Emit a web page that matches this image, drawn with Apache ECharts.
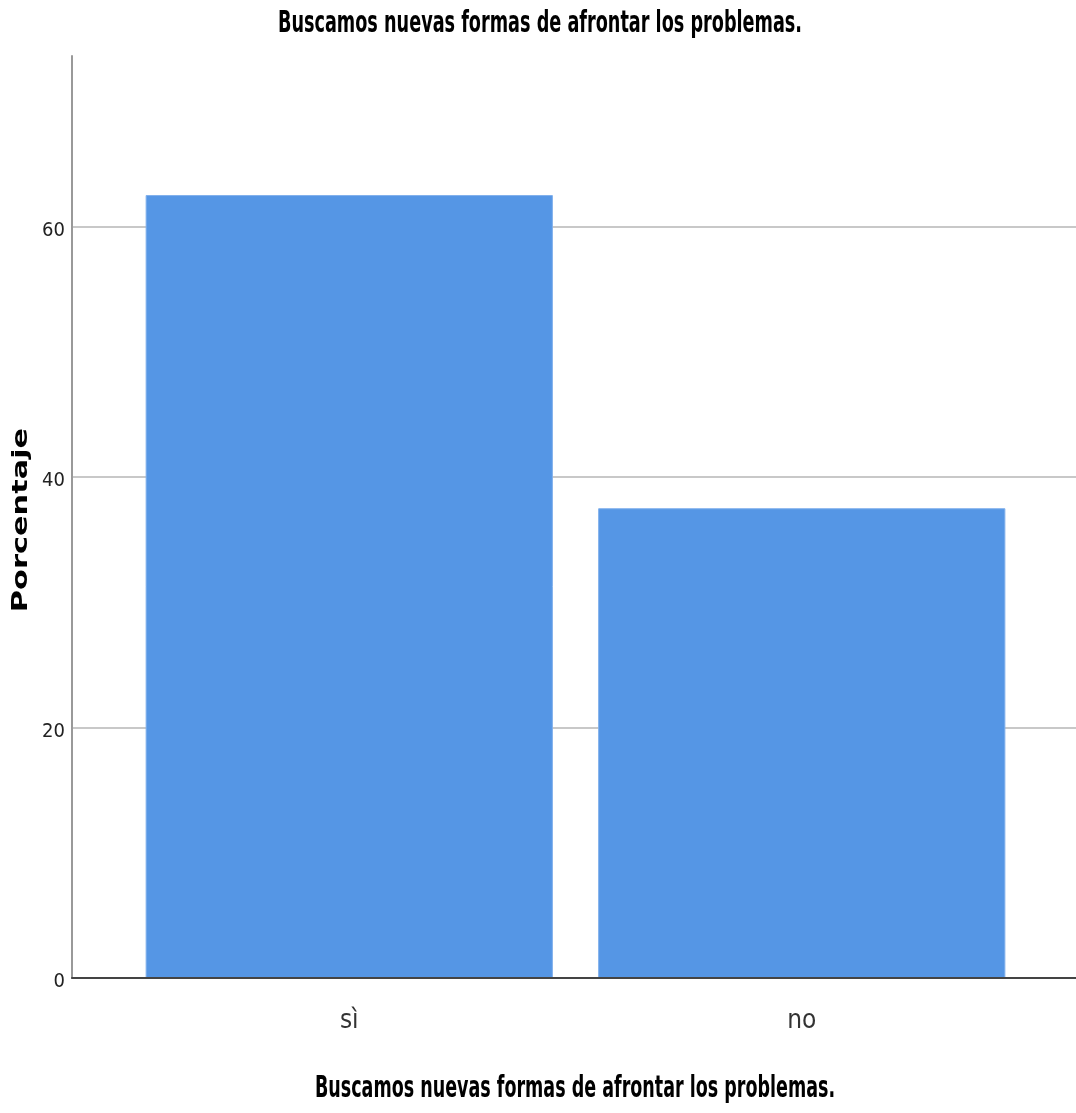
<!DOCTYPE html>
<html>
<head>
<meta charset="utf-8">
<script src="https://cdn.jsdelivr.net/npm/echarts@6/dist/echarts.min.js"></script>
<style>
html,body{margin:0;padding:0;background:#fff;}
#chart{width:1076px;height:1113px;}
</style>
</head>
<body>
<div id="chart"></div>
<script>
const chartTitle = 'Buscamos nuevas formas de afrontar los problemas.';
const categories = ['sì', 'no'];
const percentages = [62.5, 37.5];
const yTickValues = [0, 20, 40, 60];
const yAxisTitle = 'Porcentaje';
const xAxisTitle = 'Buscamos nuevas formas de afrontar los problemas.';

const narrow = '"DejaVu Sans Condensed", "Liberation Sans", sans-serif';
const yMax = 73.6;

const chart = echarts.init(document.getElementById('chart'), null, {renderer: 'canvas'});
chart.setOption({
  backgroundColor: '#ffffff',
  animation: false,
  graphic: [
    {
      type: 'text', x: 540, y: 24, scaleX: 0.654, z: 10,
      style: {text: chartTitle, font: 'bold 30px ' + narrow, fill: '#000',
              textAlign: 'center', textVerticalAlign: 'middle'}
    },
    {
      type: 'text', x: 575, y: 1089, scaleX: 0.649, z: 10,
      style: {text: xAxisTitle, font: 'bold 30px ' + narrow, fill: '#000',
              textAlign: 'center', textVerticalAlign: 'middle'}
    },
    {
      type: 'text', x: 21, y: 520, rotation: Math.PI / 2, scaleX: 1.38, z: 10,
      style: {text: yAxisTitle, font: 'bold 22px "DejaVu Sans", sans-serif', fill: '#000',
              textAlign: 'center', textVerticalAlign: 'middle'}
    }
  ],
  grid: [
    {left: 72, right: 0, top: 56, bottom: 135, outerBoundsMode: 'none', containLabel: false},
    {left: 123, right: 48, top: 56, bottom: 135, outerBoundsMode: 'none', containLabel: false}
  ],
  xAxis: [
    {
      gridIndex: 0, type: 'category', data: categories, z: 5,
      axisLine: {show: true, lineStyle: {color: '#444', width: 2}},
      axisTick: {show: false}, axisLabel: {show: false}, splitLine: {show: false}
    },
    {
      gridIndex: 1, type: 'category', data: categories,
      axisLine: {show: false}, axisTick: {show: false},
      axisLabel: {margin: 30, fontFamily: narrow, fontSize: 26, color: '#333'}
    }
  ],
  yAxis: [
    {
      gridIndex: 0, type: 'value', min: 0, max: yMax, interval: 20,
      axisLine: {show: true, lineStyle: {color: '#999', width: 2}},
      axisTick: {show: false},
      axisLabel: {
        margin: 7, fontFamily: narrow, fontSize: 20, color: '#222', showMaxLabel: false,
        verticalAlign: 'top', padding: [-6, 0, 0, 0],
        formatter: v => yTickValues.includes(v) ? String(v) : ''
      },
      splitLine: {show: true, showMaxLine: false, lineStyle: {color: '#c8c8c8', width: 2}}
    },
    {
      gridIndex: 1, type: 'value', min: 0, max: yMax, interval: 20, show: false,
      splitLine: {show: false}
    }
  ],
  series: [{
    type: 'bar', xAxisIndex: 1, yAxisIndex: 1,
    data: percentages, barWidth: '90%',
    itemStyle: {color: '#5596E5', borderColor: '#80B0EC', borderWidth: 1}
  }]
});
</script>
</body>
</html>
